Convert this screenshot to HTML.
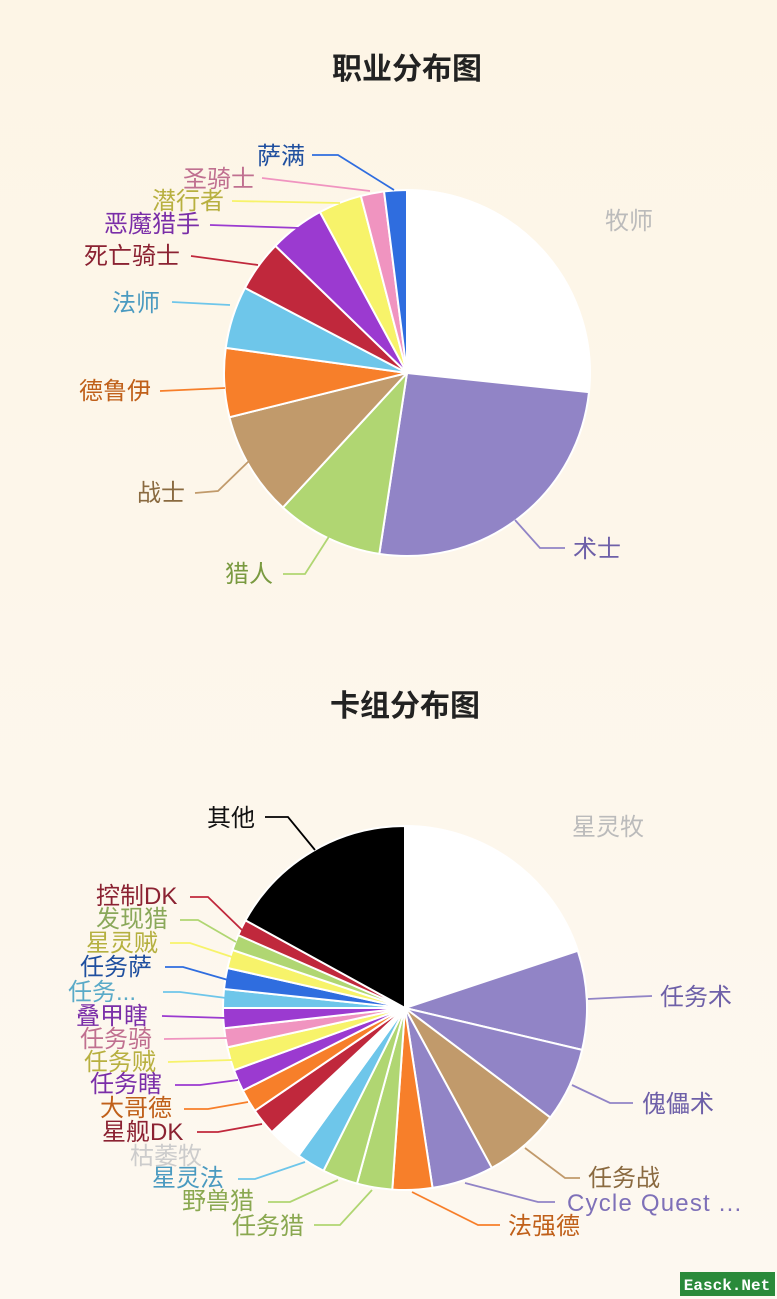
<!DOCTYPE html>
<html><head><meta charset="utf-8"><style>
html,body{margin:0;padding:0;}
body{width:777px;height:1299px;background:linear-gradient(#fdf5e6,#fdf8f0);overflow:hidden;position:relative;font-family:"Liberation Sans","Noto Sans CJK SC",sans-serif;}
svg{position:absolute;left:0;top:0;}
text{font-family:"Liberation Sans","Noto Sans CJK SC",sans-serif;font-size:24px;}
.t{font-size:30px;font-weight:bold;fill:#222;}
polyline{fill:none;stroke-width:1.8;}
</style></head><body>
<svg id="s" width="777" height="1299" viewBox="0 0 777 1299">
<g id="w"></g>
<text class="t" x="407" y="79" text-anchor="middle">职业分布图</text>
<text class="t" x="405" y="716" text-anchor="middle">卡组分布图</text>
<text x="257" y="164" fill="#1f4f9f">萨满</text><polyline stroke="#2f6ddf" points="312,155 338,155 394,190"/>
<text x="183" y="187" fill="#c07090">圣骑士</text><polyline stroke="#f094c0" points="262,178 370,191"/>
<text x="152" y="209" fill="#b8b040">潜行者</text><polyline stroke="#f7f36a" points="232,201 340,203"/>
<text x="104" y="232" fill="#7a2ea8">恶魔猎手</text><polyline stroke="#9b3ad0" points="210,225 300,228"/>
<text x="84" y="264" fill="#8b2232">死亡骑士</text><polyline stroke="#c0283c" points="191,256 258,265"/>
<text x="112" y="311" fill="#4a9ac0">法师</text><polyline stroke="#6ec6ea" points="172,302 230,305"/>
<text x="79" y="399" fill="#c0601a">德鲁伊</text><polyline stroke="#f77f2a" points="160,391 225,388"/>
<text x="137" y="501" fill="#8a6a40">战士</text><polyline stroke="#c19a6b" points="195,493 218,491 250,460"/>
<text x="225" y="582" fill="#7a9a40">猎人</text><polyline stroke="#b0d672" points="283,574 305,574 330,535"/>
<text x="605" y="229" fill="#bbbbbb">牧师</text>
<text x="573" y="557" fill="#6e60a8">术士</text><polyline stroke="#9184c6" points="565,548 540,548 515,520"/>
<text x="207" y="826" fill="#111">其他</text><polyline stroke="#000" points="265,817 288,817 315,850"/>
<text x="96" y="904" fill="#8b2232">控制DK</text><polyline stroke="#c0283c" points="190,897 208,897 242,930"/>
<text x="96" y="927" fill="#8aa85a">发现猎</text><polyline stroke="#b0d672" points="180,920 198,920 236,942"/>
<text x="86" y="951" fill="#b5b040">星灵贼</text><polyline stroke="#f7f36a" points="170,943 190,943 232,957"/>
<text x="80" y="975" fill="#1f4f9f">任务萨</text><polyline stroke="#2f6ddf" points="165,967 183,967 228,980"/>
<text x="68" y="1000" fill="#5aaac8">任务...</text><polyline stroke="#6ec6ea" points="163,992 180,992 226,998"/>
<text x="76" y="1024" fill="#7a2ea8">叠甲瞎</text><polyline stroke="#9b3ad0" points="162,1016 226,1018"/>
<text x="80" y="1047" fill="#c07090">任务骑</text><polyline stroke="#f094c0" points="164,1039 228,1038"/>
<text x="84" y="1070" fill="#b8b040">任务贼</text><polyline stroke="#f7f36a" points="168,1062 232,1060"/>
<text x="90" y="1092" fill="#7a2ea8">任务瞎</text><polyline stroke="#9b3ad0" points="175,1085 200,1085 238,1080"/>
<text x="100" y="1116" fill="#c0601a">大哥德</text><polyline stroke="#f77f2a" points="184,1109 208,1109 248,1102"/>
<text x="102" y="1140" fill="#8b2232">星舰DK</text><polyline stroke="#c0283c" points="197,1132 218,1132 262,1124"/>
<text x="130" y="1164" fill="#cccccc">枯萎牧</text>
<text x="152" y="1186" fill="#4a9ac0">星灵法</text><polyline stroke="#6ec6ea" points="238,1179 255,1179 305,1162"/>
<text x="182" y="1209" fill="#8aa850">野兽猎</text><polyline stroke="#b0d672" points="268,1202 290,1202 338,1180"/>
<text x="232" y="1234" fill="#8aa850">任务猎</text><polyline stroke="#b0d672" points="314,1225 340,1225 372,1190"/>
<text x="508" y="1234" fill="#c0601a">法强德</text><polyline stroke="#f77f2a" points="500,1225 478,1225 412,1192"/>
<text x="567" y="1211" fill="#7e70b8" style="letter-spacing:1.2px">Cycle Quest ...</text><polyline stroke="#9184c6" points="555,1202 538,1202 465,1183"/>
<text x="588" y="1186" fill="#8a6a40">任务战</text><polyline stroke="#c19a6b" points="580,1178 565,1178 525,1148"/>
<text x="642" y="1112" fill="#6e60a8">傀儡术</text><polyline stroke="#9184c6" points="633,1103 610,1103 572,1085"/>
<text x="660" y="1005" fill="#6e60a8">任务术</text><polyline stroke="#9184c6" points="652,996 628,997 588,999"/>
<text x="572" y="835" fill="#bbbbbb">星灵牧</text>
<rect x="680" y="1272" width="95" height="24" fill="#2a8a3a"/>
<text x="727" y="1290" text-anchor="middle" fill="#fff" style="font-size:16px;font-family:'Liberation Mono',monospace;font-weight:bold">Easck.Net</text>
</svg>
<script>
var W='#ffffff',P='#9184c6',G='#b0d672',T='#c19a6b',O='#f77f2a',LB='#6ec6ea',R='#c0283c',V='#9b3ad0',Y='#f7f36a',PK='#f094c0',B='#2f6ddf',K='#000000';
function pie(cx,cy,r,arr){var s='',a0=0;arr.forEach(function(e){var a1=e[0];var f=function(a){a=a*Math.PI/180;return (cx+r*Math.sin(a)).toFixed(2)+','+(cy-r*Math.cos(a)).toFixed(2)};
s+='<path d="M'+cx+','+cy+' L'+f(a0)+' A'+r+','+r+' 0 '+((a1-a0)>180?1:0)+' 1 '+f(a1)+' Z" fill="'+e[1]+'" stroke="#fff" stroke-width="2"/>';a0=a1;});return s;}
document.getElementById('w').innerHTML=
pie(407,373,183,[[96,W],[188.7,P],[222.7,G],[256,T],[277.9,O],[297.7,LB],[314,R],[331.6,V],[345.4,Y],[352.8,PK],[360,B]])+
pie(405,1008,182,[[71.7,W],[103.3,P],[127,P],[151.5,T],[171.3,P],[184,O],[195.3,G],[206.6,G],[215.8,LB],[227,W],[235.6,R],[243,O],[250,V],[257.5,Y],[263.6,PK],[270,V],[276,LB],[282.7,B],[288.6,Y],[293.6,G],[298.8,R],[360,K]]);
</script>
</body></html>
